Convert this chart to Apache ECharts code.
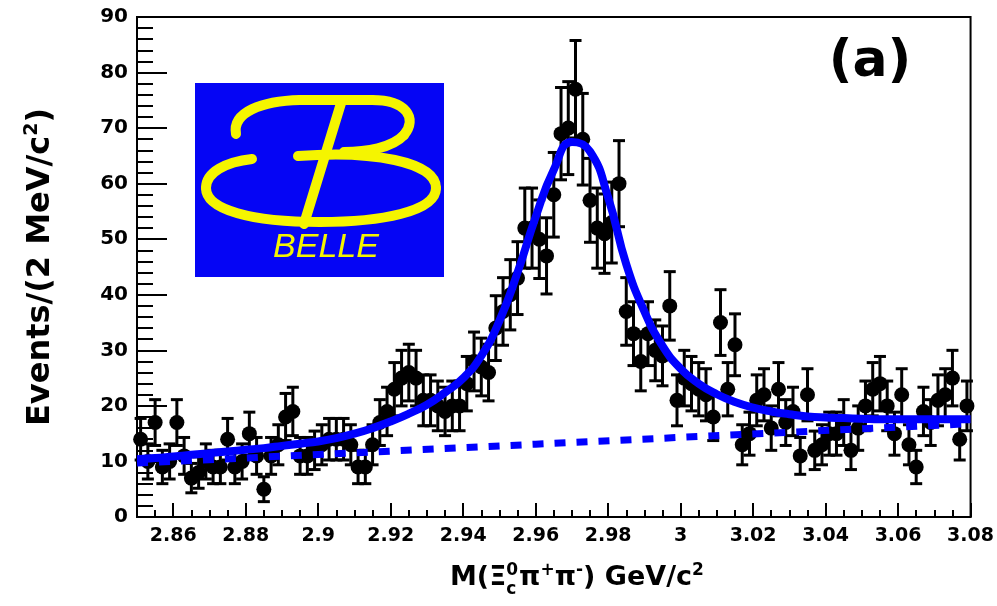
<!DOCTYPE html>
<html>
<head>
<meta charset="utf-8">
<script src="https://cdn.jsdelivr.net/npm/echarts@6/dist/echarts.min.js"></script>
<style>
  html, body { margin: 0; padding: 0; background: #ffffff; }
  #chart { width: 997px; height: 606px; }
</style>
</head>
<body>
<div id="chart"></div>
<script>
// Invariant mass of Xi_c0 pi+ pi- candidates, 2 MeV/c^2 bins from 2.85 to 3.08 GeV/c^2
const massMin = 2.85;
const massMax = 3.08;
const binWidth = 0.002;

// Events per bin (115 bins)
const binCounts = [
  14, 10, 17, 9, 10, 17, 11, 7, 8, 10,
  9, 9, 14, 9, 10, 15, 11, 5, 11, 13,
  18, 19, 11, 11, 12, 13, 14, 14, 14, 13,
  9, 9, 13, 17, 19, 23, 25, 26, 25, 21,
  21, 20, 19, 20, 20, 24, 28, 27, 26, 34,
  37, 40, 43, 52, 52, 50, 47, 58, 69, 70,
  77, 68, 57, 52, 51, 53, 60, 37, 33, 28,
  33, 30, 29, 38, 21, 25, 24, 23, 22, 18,
  35, 23, 31, 13, 15, 21, 22, 16, 23, 17,
  19, 11, 22, 12, 13, 15, 15, 17, 12, 16,
  20, 23, 24, 20, 15, 22, 13, 9, 19, 17,
  21, 22, 25, 14, 20
];

// Total fit (signal + background), read every 5 MeV/c^2 along the mass axis
const fitMass = [
  2.850, 2.855, 2.860, 2.865, 2.870, 2.875, 2.880, 2.885, 2.890, 2.895,
  2.900, 2.905, 2.910, 2.915, 2.920, 2.925, 2.930, 2.935, 2.940, 2.945,
  2.950, 2.955, 2.960, 2.965, 2.970, 2.975, 2.980, 2.985, 2.990, 2.995,
  3.000, 3.005, 3.010, 3.015, 3.020, 3.025, 3.030, 3.035, 3.040, 3.045,
  3.050, 3.055, 3.060, 3.065, 3.070, 3.075, 3.080
];
const fitTotal = [
  10.4, 10.6, 10.9, 11.2, 11.5, 11.8, 12.1, 12.4, 12.8, 13.2,
  13.6, 14.2, 15.0, 16.0, 17.2, 18.6, 20.2, 22.4, 25.0, 29.0,
  35.3, 44.0, 54.0, 62.5, 67.5, 65.8, 57.5, 45.5, 37.0, 30.8,
  26.7, 24.0, 22.1, 20.7, 19.7, 19.0, 18.5, 18.1, 17.9, 17.8,
  17.7, 17.6, 17.6, 17.6, 17.6, 17.6, 17.6
];

// Background component of the fit
const bkgMass = [2.85, 2.96, 3.08];
const bkgLevel = [9.7, 13.1, 16.8];

// Axis tick labels
const xTickLabels = [2.86, 2.88, 2.90, 2.92, 2.94, 2.96, 2.98, 3.00, 3.02, 3.04, 3.06, 3.08];
const yTickLabels = [0, 10, 20, 30, 40, 50, 60, 70, 80, 90];

const points = binCounts.map((n, i) => [massMin + binWidth * (i + 0.5), n]);
const fitLine = fitMass.map((m, i) => [m, fitTotal[i]]);
const bkgLine = bkgMass.map((m, i) => [m, bkgLevel[i]]);

const BLUE = '#0000ff';
const YELLOW = '#f5f500';
const FONT = '"DejaVu Sans", "Liberation Sans", Arial, sans-serif';

// Data point with Poisson (sqrt N) error bar and end caps
function renderErrorPoint(params, api) {
  const x = api.value(0);
  const n = api.value(1);
  const err = Math.sqrt(n);
  const c = api.coord([x, n]);
  const hi = api.coord([x, n + err]);
  const lo = api.coord([x, Math.max(n - err, 0)]);
  const cap = 6;
  const st = { stroke: '#000', lineWidth: 3 };
  return {
    type: 'group',
    children: [
      { type: 'line', shape: { x1: c[0], y1: hi[1], x2: c[0], y2: lo[1] }, style: st },
      { type: 'line', shape: { x1: c[0] - cap, y1: hi[1], x2: c[0] + cap, y2: hi[1] }, style: st },
      { type: 'line', shape: { x1: c[0] - cap, y1: lo[1], x2: c[0] + cap, y2: lo[1] }, style: st },
      { type: 'circle', shape: { cx: c[0], cy: c[1], r: 7.5 }, style: { fill: '#000' } }
    ]
  };
}

// Text width helper for laying out the x-axis title with stacked indices
const measureCtx = document.createElement('canvas').getContext('2d');
function textWidth(str, size) {
  measureCtx.font = 'bold ' + size + 'px ' + FONT;
  return measureCtx.measureText(str).width;
}

function buildXTitle(left, baseline) {
  const big = 27, small = 17;
  const parts = [];
  let x = left;
  function put(str, size, y) {
    parts.push({
      type: 'text', x: x, y: y,
      style: { text: str, font: 'bold ' + size + 'px ' + FONT, fill: '#000', verticalAlign: 'bottom', align: 'left' }
    });
  }
  function run(str) { put(str, big, baseline); x += textWidth(str, big); }
  function sup(str) { put(str, small, baseline - 12); x += textWidth(str, small); }
  run('M(\u039E');
  // stacked charge superscript over charm subscript
  put('0', small, baseline - 12);
  put('c', small, baseline + 7);
  x += textWidth('0', small) + 1;
  run('\u03C0');
  sup('+');
  run('\u03C0');
  sup('-');
  run(') GeV/c');
  sup('2');
  return parts;
}

// Stroke helpers for the logo artwork
const logoStroke = { stroke: YELLOW, lineWidth: 10, fill: null, lineCap: 'round' };
function curve(x1, y1, c1x, c1y, c2x, c2y, x2, y2) {
  return {
    type: 'bezierCurve',
    shape: { x1: x1, y1: y1, cpx1: c1x, cpy1: c1y, cpx2: c2x, cpy2: c2y, x2: x2, y2: y2 },
    style: logoStroke
  };
}
function seg(x1, y1, x2, y2) {
  return { type: 'line', shape: { x1: x1, y1: y1, x2: x2, y2: y2 }, style: logoStroke };
}

const chart = echarts.init(document.getElementById('chart'), null, { renderer: 'canvas' });

const axisLineStyle = { color: '#000', width: 2 };

const option = {
  animation: false,
  backgroundColor: '#ffffff',
  grid: {
    left: 137, right: 24, top: 17, bottom: 89,
    show: true, borderColor: '#000', borderWidth: 2, backgroundColor: 'transparent'
  },
  xAxis: [
    {
      type: 'value', min: massMin, max: massMax, interval: 0.005,
      axisLine: { show: true, onZero: false, lineStyle: axisLineStyle },
      axisTick: { show: true, inside: true, length: 7, lineStyle: axisLineStyle },
      axisLabel: { show: false },
      splitLine: { show: false }
    },
    {
      type: 'value', min: massMin, max: massMax, position: 'bottom',
      axisLine: { show: false, onZero: false },
      axisTick: { show: true, inside: true, length: 14, customValues: xTickLabels, lineStyle: axisLineStyle },
      axisLabel: {
        show: true, customValues: xTickLabels, margin: 10,
        color: '#000', fontFamily: FONT, fontWeight: 'bold', fontSize: 19,
        formatter: v => String(parseFloat(v.toFixed(2)))
      },
      splitLine: { show: false }
    }
  ],
  yAxis: {
    type: 'value', min: 0, max: 90, interval: 10,
    axisLine: { show: true, onZero: false, lineStyle: axisLineStyle },
    axisTick: { show: true, inside: true, length: 30, lineStyle: axisLineStyle },
    minorTick: { show: true, splitNumber: 5, length: 16, lineStyle: axisLineStyle },
    splitLine: { show: false },
    axisLabel: {
      color: '#000', fontFamily: FONT, fontWeight: 'bold', fontSize: 20, margin: 9,
      formatter: v => String(v)
    },
    name: '{t|Events/(2 MeV/c}{s|2}{t|)}',
    nameLocation: 'middle',
    nameRotate: 90,
    nameGap: 78,
    nameTextStyle: {
      rich: {
        t: { fontFamily: FONT, fontWeight: 'bold', fontSize: 32, color: '#000', lineHeight: 36 },
        s: { fontFamily: FONT, fontWeight: 'bold', fontSize: 19, color: '#000', verticalAlign: 'top', lineHeight: 36 }
      }
    }
  },
  series: [
    {
      type: 'custom', name: 'data', xAxisIndex: 0, yAxisIndex: 0,
      renderItem: renderErrorPoint, data: points, clip: false, z: 2
    },
    {
      type: 'line', name: 'background', xAxisIndex: 0, data: bkgLine,
      symbol: 'none', smooth: false, z: 3,
      lineStyle: { color: BLUE, width: 7, type: [11, 11], cap: 'butt' }
    },
    {
      type: 'line', name: 'fit', xAxisIndex: 0, data: fitLine,
      symbol: 'none', smooth: 0.5, z: 4,
      lineStyle: { color: BLUE, width: 8 }
    }
  ],
  graphic: [
    // Belle logo
    {
      type: 'group', z: 10,
      children: [
        { type: 'rect', shape: { x: 195, y: 83, width: 249, height: 194 }, style: { fill: '#0505f5' } },
        curve(236, 134, 232, 112, 262, 101, 300, 100),
        seg(300, 100, 372, 100),
        curve(372, 100, 406, 100, 418, 118, 404, 135),
        curve(404, 135, 392, 148, 366, 152, 344, 152),
        seg(342, 100, 304, 224),
        curve(298, 156, 372, 150, 436, 162, 436, 188),
        curve(436, 188, 436, 212, 380, 222, 320, 222),
        curve(320, 222, 252, 222, 206, 210, 206, 188),
        curve(206, 188, 206, 172, 226, 162, 252, 159),
        {
          type: 'text', x: 326, y: 248,
          style: {
            text: 'BELLE', fill: YELLOW, font: 'italic 34px "Liberation Sans", Arial, sans-serif',
            align: 'center', verticalAlign: 'middle'
          }
        }
      ]
    },
    // panel label
    {
      type: 'text', x: 870, y: 62, z: 10,
      style: {
        text: '(a)', fill: '#000', font: 'bold 52px ' + FONT,
        align: 'center', verticalAlign: 'middle'
      }
    },
    // x-axis title
    { type: 'group', children: buildXTitle(450, 591) }
  ]
};

chart.setOption(option);
</script>
</body>
</html>
